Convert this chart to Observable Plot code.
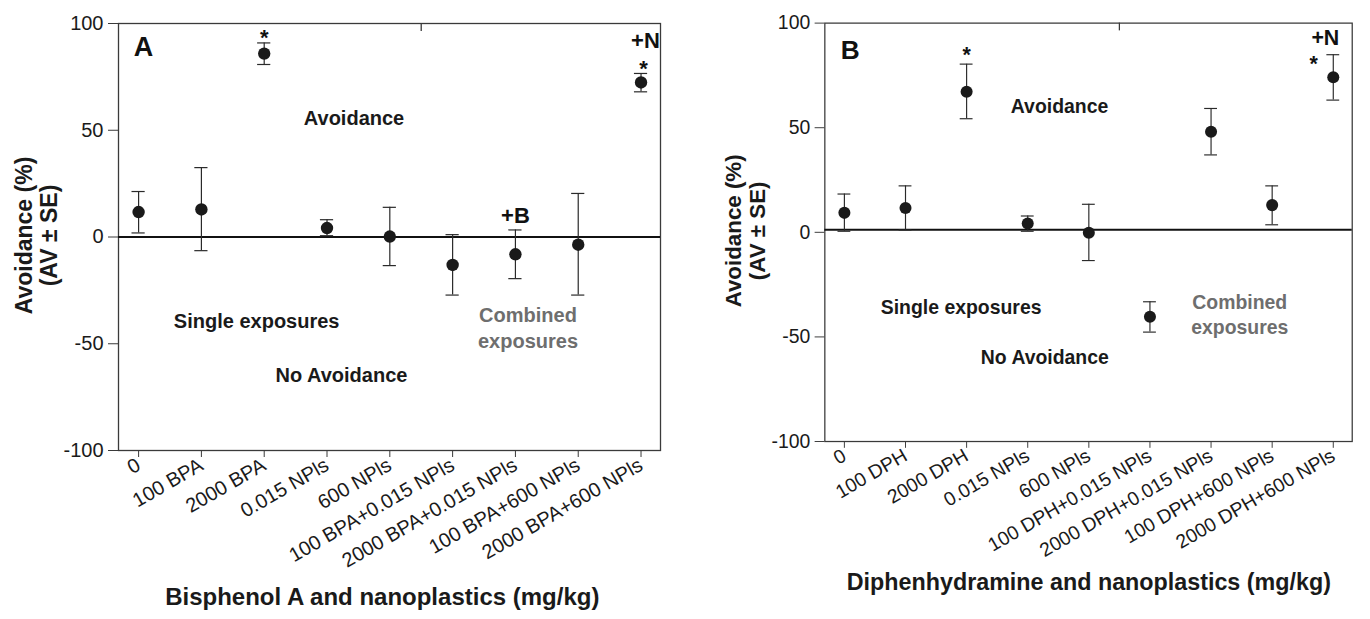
<!DOCTYPE html>
<html>
<head>
<meta charset="utf-8">
<script src="https://cdn.jsdelivr.net/npm/d3@7"></script>
<script src="https://cdn.jsdelivr.net/npm/@observablehq/plot@0.6"></script>
<style>
  html, body { margin: 0; padding: 0; background: #fff; overflow: hidden; }
  #wrap { position: relative; width: 1370px; height: 619px; overflow: hidden; }
  #a, #b { position: absolute; top: 0; }
  #a { left: 0; }
  #b { left: 690px; }
</style>
</head>
<body>
<div id="wrap"><div id="a"></div><div id="b"></div></div>
<script>
// ---------- data ----------
const yTicks = [-100, -50, 0, 50, 100];

const labelsA = ["0", "100 BPA", "2000 BPA", "0.015 NPls", "600 NPls",
  "100 BPA+0.015 NPls", "2000 BPA+0.015 NPls", "100 BPA+600 NPls", "2000 BPA+600 NPls"];
const meanA = [11.7, 12.9, 85.9, 4.2, 0.2, -13.1, -8.1, -3.6, 72.4];
const hiA   = [21.3, 32.5, 90.9, 8.1, 13.9, 1.1, 3.3, 20.4, 76.6];
const loA   = [1.9, -6.4, 80.8, 0.6, -13.4, -27.2, -19.5, -27.2, 68.0];

const labelsB = ["0", "100 DPH", "2000 DPH", "0.015 NPls", "600 NPls",
  "100 DPH+0.015 NPls", "2000 DPH+0.015 NPls", "100 DPH+600 NPls", "2000 DPH+600 NPls"];
const meanB = [9.3, 11.6, 67.2, 4.2, -0.2, -40.4, 48.1, 13.0, 74.1];
const hiB   = [18.3, 22.2, 80.4, 7.8, 13.4, -33.2, 59.2, 22.2, 84.9];
const loB   = [0.5, 1.1, 54.3, 0.5, -13.5, -47.7, 37.0, 3.6, 63.2];

const xTitleA = "Bisphenol A and nanoplastics (mg/kg)";
const xTitleB = "Diphenhydramine and nanoplastics (mg/kg)";
const yTitle = "Avoidance (%)\n(AV ± SE)";

// annotations (text, x in category index units, y in % units)
const panelLetterA = {t: "A", x: 0.08, y: 88.6};
const panelLetterB = {t: "B", x: 0.095, y: 87};
const regionA = [
  {t: "Avoidance", x: 3.43, y: 55.6},
  {t: "Single exposures", x: 1.88, y: -39.8},
  {t: "No Avoidance", x: 3.23, y: -65}
];
const regionB = [
  {t: "Avoidance", x: 3.52, y: 59.8},
  {t: "Single exposures", x: 1.91, y: -36.2},
  {t: "No Avoidance", x: 3.28, y: -59.8}
];
const combinedA = [{t: "Combined\nexposures", x: 6.2, y: -42}];
const combinedB = [{t: "Combined\nexposures", x: 6.47, y: -38.6}];
const signsA = [
  {t: "+B", x: 6.0, y: 10},
  {t: "+N", x: 8.07, y: 91.6}
];
const signsB = [
  {t: "+N", x: 7.87, y: 92.6}
];
const starsA = [{t: "*", x: 2, y: 95.6}, {t: "*", x: 8.04, y: 81.2}];
const starsB = [{t: "*", x: 2, y: 87}, {t: "*", x: 7.68, y: 82.6}];

// ---------- drawing ----------
const FONT = "'Liberation Sans', Arial, Helvetica, sans-serif";

function panel(cfg) {
  const idx = d3.range(cfg.labels.length);
  const rows = idx.map(i => ({i, m: cfg.mean[i], lo: cfg.lo[i], hi: cfg.hi[i]}));
  const cap = 0.105;
  return Plot.plot({
    width: cfg.width,
    height: 619,
    marginLeft: cfg.ml,
    marginRight: cfg.mr,
    marginTop: cfg.mt,
    marginBottom: cfg.mb,
    style: {fontFamily: FONT, color: "#1a1a1a", background: "transparent", overflow: "visible"},
    x: {domain: [-0.32, 8.31]},
    y: {domain: [-100, 100]},
    marks: [
      Plot.frame({stroke: "#3a3a3a", strokeWidth: 1.3}),
      Plot.axisY({ticks: yTicks, tickFormat: d => String(d), tickSize: 10, tickPadding: 5,
        fontSize: 20, label: null, stroke: "#3a3a3a"}),
      Plot.axisX({ticks: idx, tickFormat: i => cfg.labels[i], tickRotate: -30, tickSize: 7,
        tickPadding: 6, fontSize: 20, label: null, stroke: "#3a3a3a"}),
      Plot.ruleX([4.5], {y1: 100, y2: 96.3, stroke: "#3a3a3a", strokeWidth: 1.3}),
      Plot.ruleY([cfg.base], {stroke: "#111", strokeWidth: 2}),
      Plot.ruleX(rows, {x: "i", y1: "lo", y2: "hi", stroke: "#2a2a2a", strokeWidth: 1.2}),
      Plot.ruleY(rows, {y: "hi", x1: d => d.i - cap, x2: d => d.i + cap, stroke: "#2a2a2a", strokeWidth: 1.2}),
      Plot.ruleY(rows, {y: "lo", x1: d => d.i - cap, x2: d => d.i + cap, stroke: "#2a2a2a", strokeWidth: 1.2}),
      Plot.dot(rows, {x: "i", y: "m", r: 6.2, fill: "#1a1a1a", stroke: "none"}),
      Plot.text([cfg.letter], {x: "x", y: "y", text: "t", fontSize: 27, fontWeight: "bold", fill: "#111"}),
      Plot.text(cfg.region, {x: "x", y: "y", text: "t", fontSize: 20, fontWeight: "bold", fill: "#1a1a1a"}),
      Plot.text(cfg.combined, {x: "x", y: "y", text: "t", fontSize: 20, fontWeight: "bold", fill: "#6e6e6e", lineHeight: 1.3}),
      Plot.text(cfg.signs, {x: "x", y: "y", text: "t", fontSize: 22, fontWeight: "bold", fill: "#111"}),
      Plot.text(cfg.stars, {x: "x", y: "y", text: "t", fontSize: 22, fontWeight: "bold", fill: "#111", dy: 5}),
      Plot.text([{t: yTitle, y: 0.7}], {y: "y", text: "t", frameAnchor: "left", textAnchor: "middle",
        lineAnchor: "middle", rotate: -90, dx: -82, fontSize: 23, fontWeight: "bold", lineHeight: 1.1, fill: "#1a1a1a"}),
      Plot.text([{t: cfg.xTitle, x: cfg.xtx}], {x: "x", text: "t", frameAnchor: "bottom", lineAnchor: "middle",
        dy: cfg.xtdy, fontSize: 24, fontWeight: "bold", fill: "#1a1a1a"})
    ]
  });
}

document.getElementById("a").append(panel({
  labels: labelsA, mean: meanA, lo: loA, hi: hiA, base: 0,
  width: 680, ml: 118, mr: 20, mt: 23, mb: 169,
  letter: panelLetterA, region: regionA, combined: combinedA, signs: signsA, stars: starsA,
  xTitle: xTitleA, xtx: 3.88, xtdy: 147
}));
document.getElementById("b").append(panel({
  labels: labelsB, mean: meanB, lo: loB, hi: hiB, base: 1.2,
  width: 700, ml: 138.3, mr: 18.8, mt: 23.3, mb: 165,
  letter: panelLetterB, region: regionB, combined: combinedB, signs: signsB, stars: starsB,
  xTitle: xTitleB, xtx: 4.0, xtdy: 145
}));
</script>
</body>
</html>
